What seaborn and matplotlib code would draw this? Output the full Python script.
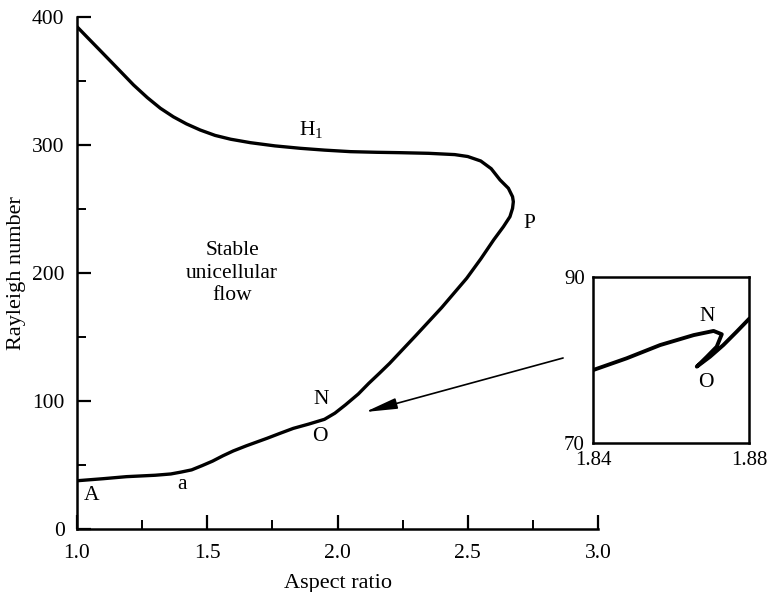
import matplotlib
matplotlib.use("Agg")
import matplotlib.pyplot as plt
import seaborn as sns
import pandas as pd
from matplotlib.ticker import MultipleLocator

# ---- data ----
ratio_main = [1.00, 1.10, 1.19, 1.30, 1.36, 1.40, 1.44, 1.48, 1.52, 1.56, 1.60, 1.65,
              1.73, 1.78, 1.83, 1.89, 1.95, 1.99, 2.03, 2.08, 2.12, 2.16, 2.20, 2.30,
              2.40, 2.496, 2.55, 2.60, 2.637, 2.662, 2.672, 2.675, 2.672, 2.656, 2.624,
              2.59, 2.55, 2.50, 2.45, 2.35, 2.24, 2.15, 2.05, 1.95, 1.858, 1.76, 1.666,
              1.59, 1.53, 1.473, 1.42, 1.37, 1.32, 1.27, 1.217, 1.17, 1.13, 1.088,
              1.04, 1.00]
rayleigh_main = [37.7, 39.3, 40.9, 42.0, 43.0, 44.5, 46.2, 49.5, 53.0, 57.2, 61.0, 65.0,
                 70.9, 74.8, 78.6, 82.0, 85.7, 90.5, 96.9, 105.5, 113.8, 121.5, 129.4, 151.0,
                 173.0, 195.9, 211.0, 226.0, 236.2, 244.0, 250.5, 255.7, 259.6, 266.2, 272.7,
                 281.5, 287.5, 291.0, 292.5, 293.5, 294.0, 294.3, 294.8, 296.0, 297.4, 299.3, 301.8,
                 304.5, 307.5, 311.7, 316.5, 322.0, 328.7, 337.0, 346.9, 356.8, 365.2, 374.0,
                 384.0, 392.4]

ratio_inset = [1.8401, 1.8486, 1.8572, 1.8658, 1.8709, 1.8730, 1.8717, 1.8692, 1.8666,
               1.8700, 1.8734, 1.8768, 1.8801]
rayleigh_inset = [78.8, 80.2, 81.8, 83.0, 83.5, 83.1, 81.6, 80.4, 79.2,
                  80.4, 81.8, 83.4, 85.0]

main_xticks = [1.0, 1.5, 2.0, 2.5, 3.0]
main_yticks = [0, 100, 200, 300, 400]
inset_xticks = [1.84, 1.88]
inset_yticks = [70, 90]

df_main = pd.DataFrame({"ratio": ratio_main, "rayleigh": rayleigh_main,
                        "order": range(len(ratio_main))})
df_inset = pd.DataFrame({"ratio": ratio_inset, "rayleigh": rayleigh_inset,
                         "order": range(len(ratio_inset))})

sns.set_theme(style="white")
plt.rcParams["font.family"] = ["Liberation Serif", "DejaVu Serif"]
plt.rcParams["mathtext.fontset"] = "custom"
plt.rcParams["mathtext.rm"] = "Liberation Serif"
plt.rcParams["mathtext.it"] = "Liberation Serif"

fig = plt.figure(figsize=(7.74, 5.92), dpi=100)
ax = fig.add_axes([0.0995, 0.1064, 0.6731, 0.8649])

sns.lineplot(data=df_main, x="ratio", y="rayleigh", sort=False, estimator=None,
             color="black", lw=2.4, ax=ax)
ax.set_xlim(1.0, 3.0)
ax.set_ylim(0, 400)
ax.set_xticks(main_xticks)
ax.set_xticklabels([f"{v:.1f}" for v in main_xticks])
ax.set_yticks(main_yticks)
ax.set_yticklabels([str(v) for v in main_yticks])
ax.xaxis.set_minor_locator(MultipleLocator(0.25))
ax.yaxis.set_minor_locator(MultipleLocator(50))
for s in ["top", "right"]:
    ax.spines[s].set_visible(False)
for s in ["left", "bottom"]:
    ax.spines[s].set_color("black")
    ax.spines[s].set_linewidth(1.8)
ax.tick_params(which="major", direction="in", length=10, width=1.6, colors="black",
               labelsize=15.5, pad=9, left=True, bottom=True)
ax.tick_params(axis="x", which="major", pad=11)
ax.tick_params(which="minor", direction="in", length=6.5, width=1.4, colors="black",
               left=True, bottom=True)
ax.set_xlabel("Aspect ratio", fontsize=16, color="black", labelpad=8)
ax.set_ylabel("Rayleigh number", fontsize=16, color="black", labelpad=4)
ax.grid(False)

txt = dict(color="black", fontsize=15.5, ha="center", va="center")
ax.text(1.9, 312, r"H$_1$", **txt)
ax.text(2.735, 239, "P", **txt)
ax.text(1.939, 101, "N", **txt)
ax.text(1.933, 72.5, "O", **txt)
ax.text(1.402, 35, "a", **txt)
ax.text(1.056, 26.5, "A", **txt)
ax.text(1.595, 200, "Stable\nunicellular\nflow", linespacing=1.25, **txt)

ax.annotate("", xy=(2.106, 91.4), xytext=(2.866, 133.6), annotation_clip=False,
            arrowprops=dict(arrowstyle="-|>,head_length=1.3,head_width=0.22",
                            mutation_scale=15, lw=1.2, color="black",
                            shrinkA=0, shrinkB=0))

# ---- inset ----
ins = fig.add_axes([0.7662, 0.2517, 0.2016, 0.2804])
sns.lineplot(data=df_inset, x="ratio", y="rayleigh", sort=False, estimator=None,
             color="black", lw=2.8, ax=ins)
ins.set_xlim(1.84, 1.88)
ins.set_ylim(70, 90)
ins.set_xticks(inset_xticks)
ins.set_xticklabels([f"{v:.2f}" for v in inset_xticks])
ins.set_yticks(inset_yticks)
ins.set_yticklabels([str(v) for v in inset_yticks])
ins.tick_params(length=0, labelsize=15, pad=6, colors="black")
for s in ins.spines.values():
    s.set_visible(True)
    s.set_color("black")
    s.set_linewidth(1.8)
ins.set_xlabel("")
ins.set_ylabel("")
ins.grid(False)
ins.text(1.8692, 85.3, "N", **txt)
ins.text(1.8689, 77.3, "O", **txt)

fig.savefig("out.png", dpi=100)
